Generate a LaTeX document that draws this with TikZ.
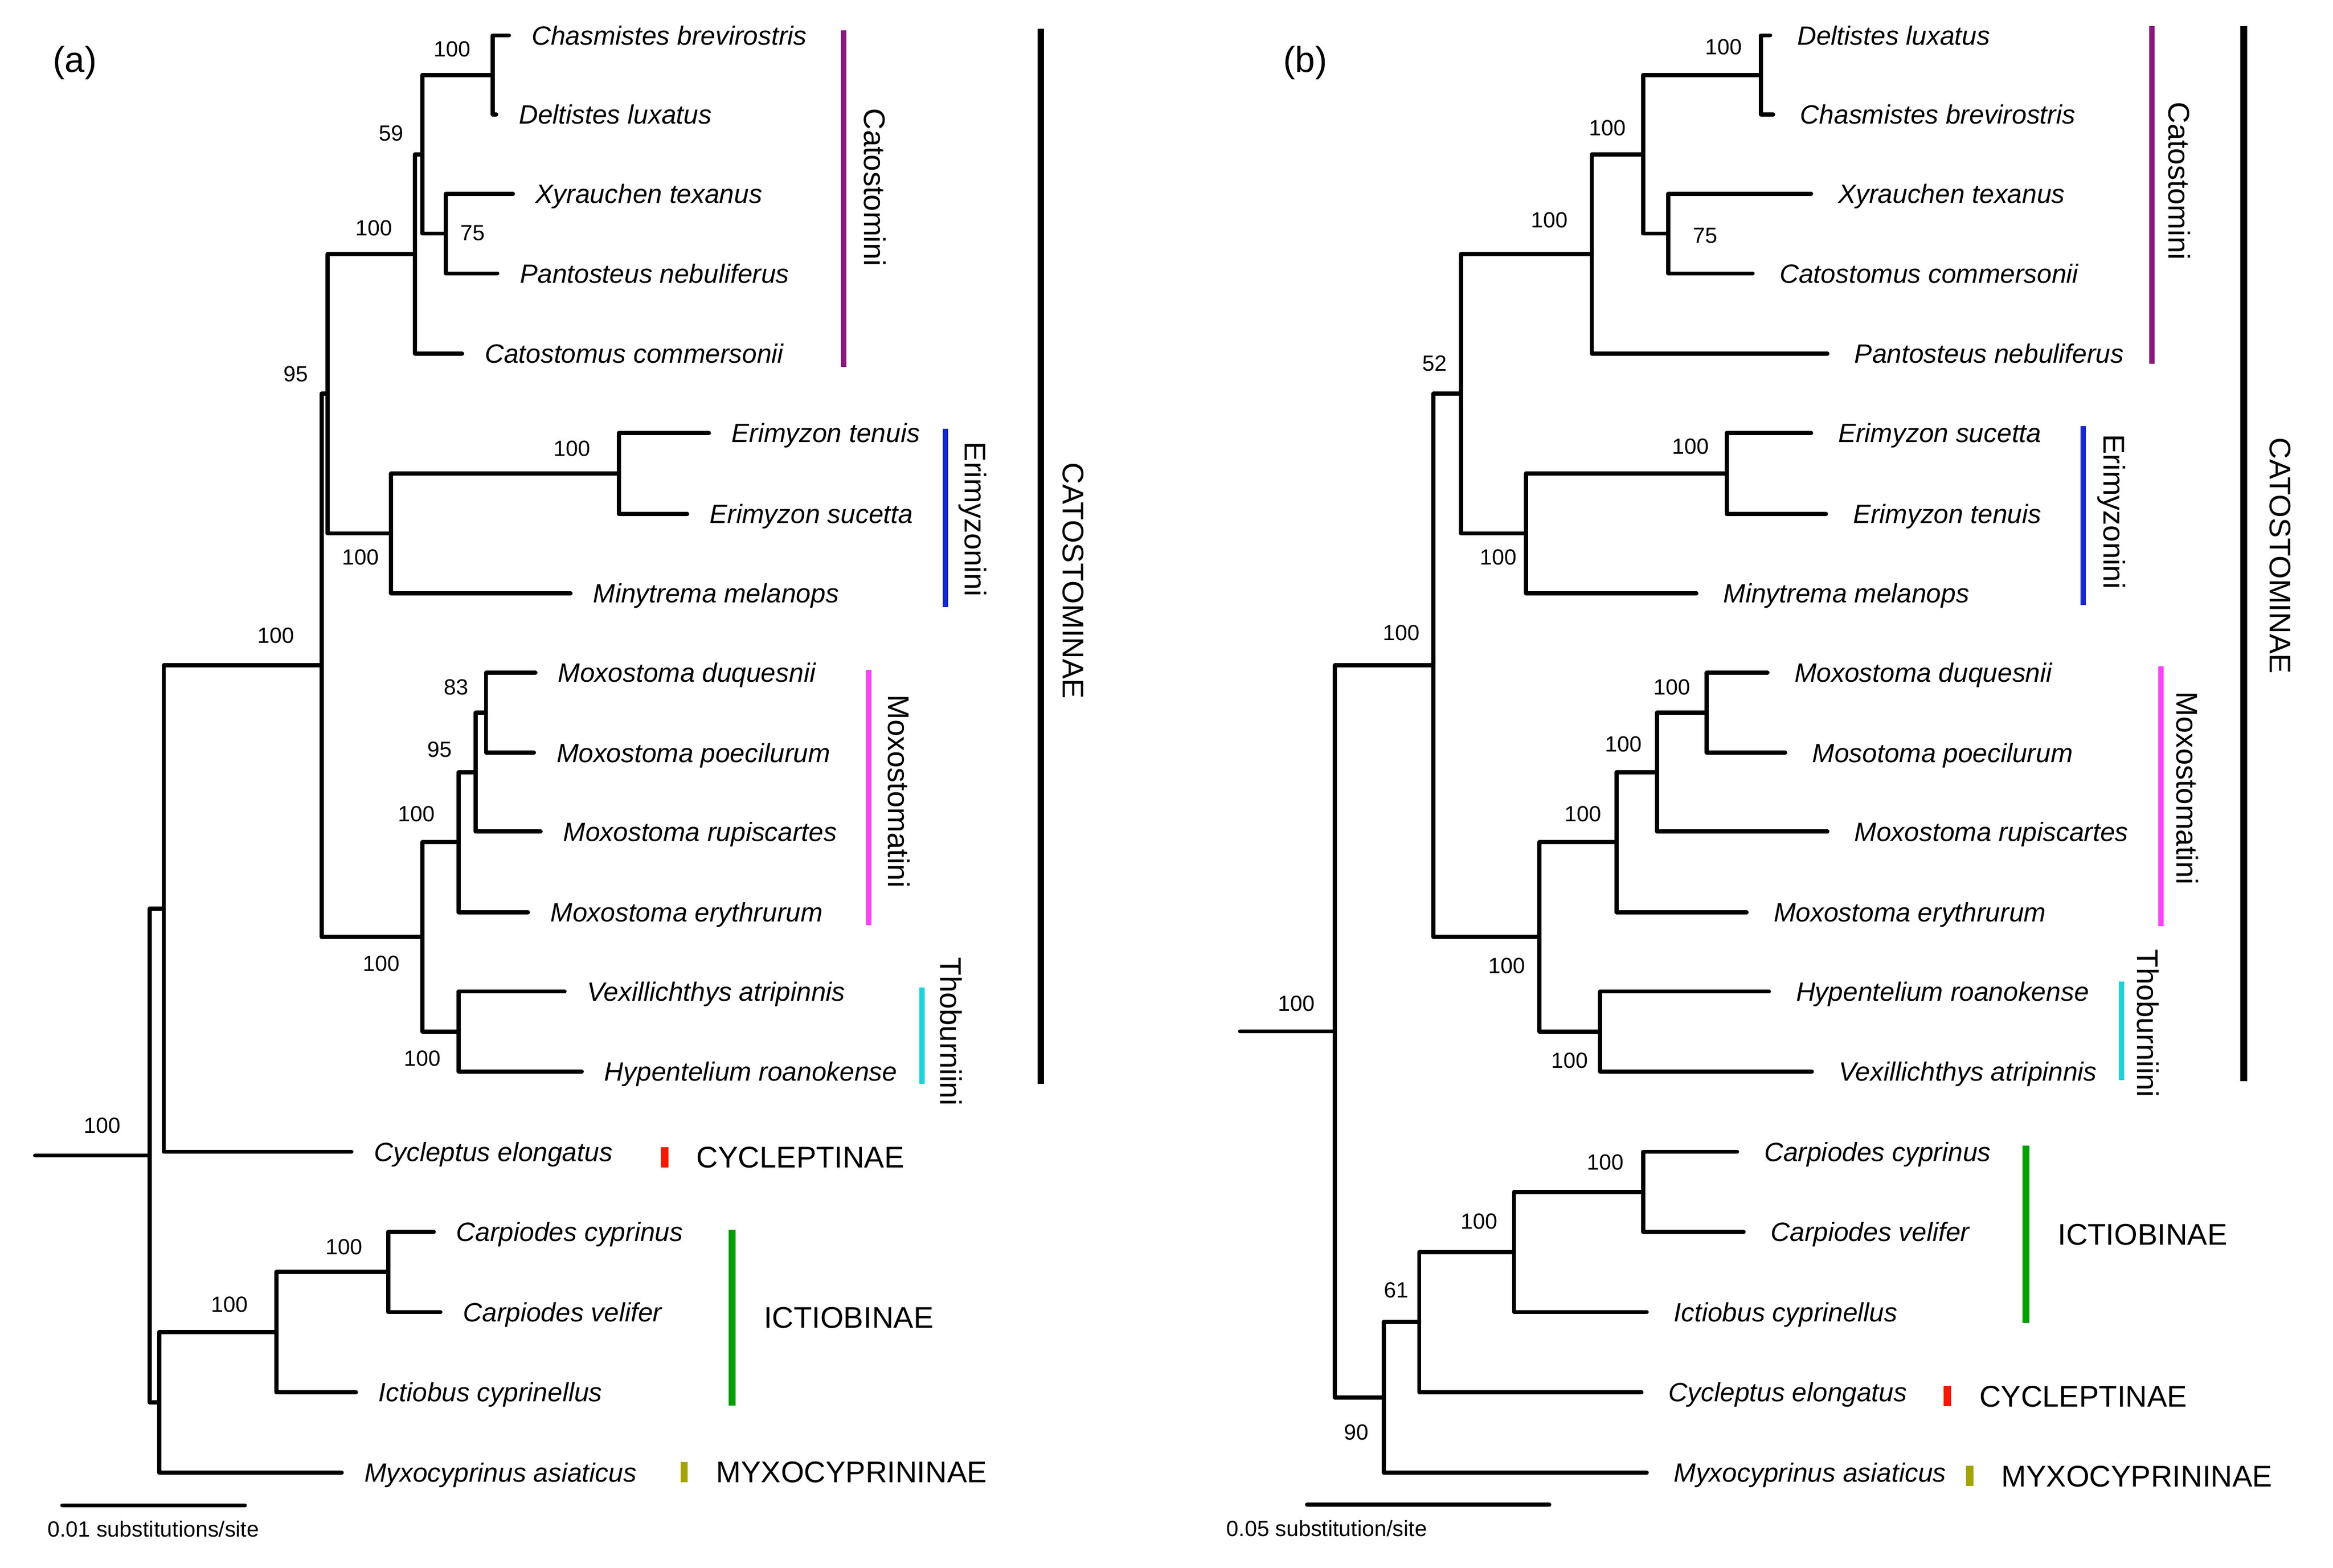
\documentclass[tikz,border=0pt]{standalone}
\usepackage{fontspec}
\setmainfont{Liberation Sans}
\usepackage{tikz}
\usetikzlibrary{positioning}

\definecolor{catocol}{RGB}{140,22,125}
\definecolor{erimcol}{RGB}{22,40,214}
\definecolor{moxocol}{RGB}{255,64,255}
\definecolor{thobcol}{RGB}{30,210,220}
\definecolor{cyclcol}{RGB}{250,25,0}
\definecolor{ictiocol}{RGB}{0,160,0}
\definecolor{myxocol}{RGB}{165,165,0}

\tikzset{
    branch/.style={line width=2.8pt, line cap=round, line join=round},
    tipa/.style={anchor=west, inner xsep=15pt, inner ysep=0pt, font=\fontsize{17.7}{21}\selectfont\itshape, text height=12.7pt, text depth=0pt},
    tipb/.style={tipa, inner xsep=18pt},
    boot/.style={inner sep=0pt, font=\fontsize{14.7}{17}\selectfont, text height=10.5pt, text depth=0pt},
    bar/.style={inner sep=0pt, minimum width=3.5pt},
    widebar/.style={inner sep=0pt, minimum width=4.8pt},
    tribe/.style={rotate=-90, inner sep=0pt, font=\fontsize{20}{24}\selectfont, text height=14.3pt, text depth=0pt},
    subfam/.style={inner sep=0pt, font=\fontsize{20}{24}\selectfont, text height=14.3pt, text depth=0pt},
    panel/.style={inner sep=0pt, font=\fontsize{24}{28}\selectfont},
    scaletext/.style={anchor=base west, inner sep=0pt, font=\fontsize{14.7}{17}\selectfont}
}

\begin{document}
\begin{tikzpicture}[x=1pt, y=-1pt]
    \useasboundingbox (0,0) rectangle (1560,1048.5);

    \node[panel] (pa) at (50,42) {(a)};

    \node[tipa] (aChas) at (340.3,23.7) {Chasmistes brevirostris};
    \node[tipa] (aDelt) at (331.8,76.5) {Deltistes luxatus};
    \node[tipa] (aXyr) at (343,129.5) {Xyrauchen texanus};
    \node[tipa] (aPant) at (332.5,182.9) {Pantosteus nebuliferus};
    \node[tipa] (aCat) at (309,236.5) {Catostomus commersonii};
    \node[tipa] (aEten) at (474,289.5) {Erimyzon tenuis};
    \node[tipa] (aEsuc) at (459.5,343.6) {Erimyzon sucetta};
    \node[tipa] (aMiny) at (381.5,396.8) {Minytrema melanops};
    \node[tipa] (aMduq) at (358,449.8) {Moxostoma duquesnii};
    \node[tipa] (aMpoe) at (357,503.4) {Moxostoma poecilurum};
    \node[tipa] (aMrup) at (361.5,556.1) {Moxostoma rupiscartes};
    \node[tipa] (aMery) at (353,610) {Moxostoma erythrurum};
    \node[tipa] (aVex) at (377.5,663) {Vexillichthys atripinnis};
    \node[tipa] (aHyp) at (389,716.5) {Hypentelium roanokense};
    \node[tipa] (aCyc) at (235,770.2) {Cycleptus elongatus};
    \node[tipa] (aCcyp) at (290,823.8) {Carpiodes cyprinus};
    \node[tipa] (aCvel) at (294.5,877.4) {Carpiodes velifer};
    \node[tipa] (aIct) at (238,931) {Ictiobus cyprinellus};
    \node[tipa] (aMyx) at (228.5,984.8) {Myxocyprinus asiaticus};

    \coordinate (aCD) at (329.5,50.1);
    \coordinate (aXP) at (298,156.2);
    \coordinate (a59) at (282.5,103.2);
    \coordinate (aN1) at (277.5,169.9);
    \coordinate (aEE) at (414,316.6);
    \coordinate (aEM) at (261.5,356.7);
    \coordinate (a95) at (219,263.3);
    \coordinate (a83) at (325,476.6);
    \coordinate (aM95) at (318,516.4);
    \coordinate (aM100) at (306.5,563.2);
    \coordinate (aTh) at (306.5,689.8);
    \coordinate (aMT) at (282.5,626.5);
    \coordinate (aCatm) at (215,444.9);
    \coordinate (aCC) at (109.5,607.6);
    \coordinate (aI1) at (259.5,850.6);
    \coordinate (aI2) at (185,890.8);
    \coordinate (aIM) at (106.4,937.8);
    \coordinate (aRoot) at (100,772.7);
    \coordinate (aStem) at (23.5,772.7);

    \draw[branch] (aChas.west) -| (aCD) |- (aDelt.west);
    \draw[branch] (aXyr.west) -| (aXP) |- (aPant.west);
    \draw[branch] (aCD) -| (a59) |- (aXP);
    \draw[branch] (a59) -| (aN1) |- (aCat.west);
    \draw[branch] (aEten.west) -| (aEE) |- (aEsuc.west);
    \draw[branch] (aEE) -| (aEM) |- (aMiny.west);
    \draw[branch] (aN1) -| (a95) |- (aEM);
    \draw[branch] (aMduq.west) -| (a83) |- (aMpoe.west);
    \draw[branch] (a83) -| (aM95) |- (aMrup.west);
    \draw[branch] (aM95) -| (aM100) |- (aMery.west);
    \draw[branch] (aVex.west) -| (aTh) |- (aHyp.west);
    \draw[branch] (aM100) -| (aMT) |- (aTh);
    \draw[branch] (a95) -| (aCatm) |- (aMT);
    \draw[branch] (aCatm) -| (aCC) |- (aCyc.west);
    \draw[branch] (aCcyp.west) -| (aI1) |- (aCvel.west);
    \draw[branch] (aI1) -| (aI2) |- (aIct.west);
    \draw[branch] (aI2) -| (aIM) |- (aMyx.west);
    \draw[branch] (aCC) -| (aRoot) |- (aIM);
    \draw[branch] (aStem) -- (aRoot);

    \node[boot] (aCDb) at (302.5,32.6) {100};
    \node[boot] (aXPb) at (316,155.7) {75};
    \node[boot] (a59b) at (261.5,89.1) {59};
    \node[boot] (aN1b) at (250,152.3) {100};
    \node[boot] (aEEb) at (382.5,299.9) {100};
    \node[boot] (aEMb) at (241,372.6) {100};
    \node[boot] (a95b) at (198,249.8) {95};
    \node[boot] (a83b) at (305,459.3) {83};
    \node[boot] (aM95b) at (294,501) {95};
    \node[boot] (aM100b) at (278.5,544.3) {100};
    \node[boot] (aThb) at (282.5,707.5) {100};
    \node[boot] (aMTb) at (255,644.1) {100};
    \node[boot] (aCatmb) at (184.5,424.7) {100};
    \node[boot] (aI1b) at (230,833.6) {100};
    \node[boot] (aI2b) at (153.5,872) {100};
    \node[boot] (aRootb) at (68.5,752.6) {100};

    \node[bar, fill=catocol, minimum height=225.3pt] (aCatoBar) at (564.2,132.85) {};
    \node[bar, fill=erimcol, minimum height=119.4pt] (aErimBar) at (632.2,346.5) {};
    \node[bar, fill=moxocol, minimum height=170.9pt] (aMoxoBar) at (581,533.35) {};
    \node[bar, fill=thobcol, minimum height=64.4pt] (aThobBar) at (616.5,692.5) {};
    \node[bar, fill=black, minimum width=4.5pt, minimum height=705.5pt] (aSubBar) at (696,371.95) {};
    \node[widebar, fill=cyclcol, minimum height=13.5pt] (aCyclBar) at (444.5,773.85) {};
    \node[widebar, fill=ictiocol, minimum height=117.4pt] (aIctBar) at (489.5,881.1) {};
    \node[widebar, fill=myxocol, minimum height=13.8pt] (aMyxBar) at (457.5,984.4) {};

    \node[tribe] (aCatoLab) at (585,125.3) {Catostomini};
    \node[tribe] (aErimLab) at (652.5,347.2) {Erimyzonini};
    \node[tribe] (aMoxoLab) at (601,529.1) {Moxostomatini};
    \node[tribe] (aThobLab) at (636,689.8) {Thoburniini};
    \node[tribe] (aSubLab) at (718,388.4) {CATOSTOMINAE};
    \node[subfam, right=18.5pt of aCyclBar] (aCyclLab) {CYCLEPTINAE};
    \node[subfam, right=18.5pt of aIctBar] (aIctLab) {ICTIOBINAE};
    \node[subfam, right=18.5pt of aMyxBar] (aMyxLab) {MYXOCYPRININAE};

    \coordinate (aSc1) at (41.7,1006.7);
    \coordinate (aSc2) at (163.7,1006.7);
    \draw[branch] (aSc1) -- (aSc2);
    \node[scaletext] (aScLab) at (31.7,1027.6) {0.01 substitutions/site};

    \node[panel] (pb) at (872.8,42) {(b)};

    \node[tipb] (bDelt) at (1183.6,23.7) {Deltistes luxatus};
    \node[tipb] (bChas) at (1185.6,76.5) {Chasmistes brevirostris};
    \node[tipb] (bXyr) at (1211,129.5) {Xyrauchen texanus};
    \node[tipb] (bCat) at (1171.9,182.9) {Catostomus commersonii};
    \node[tipb] (bPant) at (1221.9,236.5) {Pantosteus nebuliferus};
    \node[tipb] (bEsuc) at (1211,289.5) {Erimyzon sucetta};
    \node[tipb] (bEten) at (1220.9,343.6) {Erimyzon tenuis};
    \node[tipb] (bMiny) at (1134.3,396.8) {Minytrema melanops};
    \node[tipb] (bMduq) at (1181.8,449.8) {Moxostoma duquesnii};
    \node[tipb] (bMpoe) at (1193.7,503.4) {Mosotoma poecilurum};
    \node[tipb] (bMrup) at (1221.9,556.1) {Moxostoma rupiscartes};
    \node[tipb] (bMery) at (1167.9,610) {Moxostoma erythrurum};
    \node[tipb] (bHyp) at (1182.8,663) {Hypentelium roanokense};
    \node[tipb] (bVex) at (1211.5,716.5) {Vexillichthys atripinnis};
    \node[tipb] (bCcyp) at (1161.5,770.2) {Carpiodes cyprinus};
    \node[tipb] (bCvel) at (1165.9,823.8) {Carpiodes velifer};
    \node[tipb] (bIct) at (1101.1,877.4) {Ictiobus cyprinellus};
    \node[tipb] (bCyc) at (1097.6,931) {Cycleptus elongatus};
    \node[tipb] (bMyx) at (1101.1,984.8) {Myxocyprinus asiaticus};

    \coordinate (bDC) at (1177.5,50.1);
    \coordinate (bXC) at (1115.4,156.2);
    \coordinate (bA) at (1098.6,103.2);
    \coordinate (bB) at (1064.4,169.9);
    \coordinate (bE) at (1154.6,316.6);
    \coordinate (bF) at (1020.4,356.7);
    \coordinate (bG) at (976.8,263.3);
    \coordinate (bM1) at (1141.2,476.6);
    \coordinate (bM2) at (1108,516.4);
    \coordinate (bM3) at (1080.8,563.2);
    \coordinate (bT) at (1069.9,689.8);
    \coordinate (bMT) at (1029.3,626.5);
    \coordinate (bC) at (958.4,444.9);
    \coordinate (bI1) at (1098.6,797);
    \coordinate (bI2) at (1012.4,837.2);
    \coordinate (b61) at (949,884.1);
    \coordinate (b90) at (925.2,934.5);
    \coordinate (bRoot) at (892.6,689.7);
    \coordinate (bStem) at (829.2,689.7);

    \draw[branch] (bDelt.west) -| (bDC) |- (bChas.west);
    \draw[branch] (bXyr.west) -| (bXC) |- (bCat.west);
    \draw[branch] (bDC) -| (bA) |- (bXC);
    \draw[branch] (bA) -| (bB) |- (bPant.west);
    \draw[branch] (bEsuc.west) -| (bE) |- (bEten.west);
    \draw[branch] (bE) -| (bF) |- (bMiny.west);
    \draw[branch] (bB) -| (bG) |- (bF);
    \draw[branch] (bMduq.west) -| (bM1) |- (bMpoe.west);
    \draw[branch] (bM1) -| (bM2) |- (bMrup.west);
    \draw[branch] (bM2) -| (bM3) |- (bMery.west);
    \draw[branch] (bHyp.west) -| (bT) |- (bVex.west);
    \draw[branch] (bM3) -| (bMT) |- (bT);
    \draw[branch] (bG) -| (bC) |- (bMT);
    \draw[branch] (bCcyp.west) -| (bI1) |- (bCvel.west);
    \draw[branch] (bI1) -| (bI2) |- (bIct.west);
    \draw[branch] (bI2) -| (b61) |- (bCyc.west);
    \draw[branch] (b61) -| (b90) |- (bMyx.west);
    \draw[branch] (bC) -| (bRoot) |- (b90);
    \draw[branch] (bStem) -- (bRoot);

    \node[boot] (bDCb) at (1152.6,31.3) {100};
    \node[boot] (bXCb) at (1140.2,157.4) {75};
    \node[boot] (bAb) at (1074.8,85.4) {100};
    \node[boot] (bBb) at (1036.2,146.9) {100};
    \node[boot] (bEb) at (1130.3,298.3) {100};
    \node[boot] (bFb) at (1002,372.6) {100};
    \node[boot] (bGb) at (959.4,242.8) {52};
    \node[boot] (bM1b) at (1117.9,459.3) {100};
    \node[boot] (bM2b) at (1085.7,497.6) {100};
    \node[boot] (bM3b) at (1058.5,544.3) {100};
    \node[boot] (bTb) at (1049.6,709.1) {100};
    \node[boot] (bMTb) at (1007.5,645.8) {100};
    \node[boot] (bCb) at (937.1,423) {100};
    \node[boot] (bI1b) at (1073.3,777.2) {100};
    \node[boot] (bI2b) at (989.1,816.7) {100};
    \node[boot] (b61b) at (933.7,862.5) {61};
    \node[boot] (b90b) at (907,957.5) {90};
    \node[boot] (bRootb) at (866.8,671) {100};

    \node[bar, fill=catocol, minimum height=225.9pt] (bCatoBar) at (1438.9,130.45) {};
    \node[bar, fill=erimcol, minimum height=119.4pt] (bErimBar) at (1392.8,344.8) {};
    \node[bar, fill=moxocol, minimum height=174pt] (bMoxoBar) at (1444.8,532.5) {};
    \node[bar, fill=thobcol, minimum height=65.8pt] (bThobBar) at (1418.6,689.4) {};
    \node[bar, fill=black, minimum width=4.5pt, minimum height=705.5pt] (bSubBar) at (1500.3,370.25) {};
    \node[widebar, fill=ictiocol, minimum height=118.7pt] (bIctBar) at (1354.7,825.45) {};
    \node[widebar, fill=cyclcol, minimum height=13.5pt] (bCyclBar) at (1302.2,933.65) {};
    \node[widebar, fill=myxocol, minimum height=13.5pt] (bMyxBar) at (1317,986.95) {};

    \node[tribe] (bCatoLab) at (1457.2,121) {Catostomini};
    \node[tribe] (bErimLab) at (1413.9,342.1) {Erimyzonini};
    \node[tribe] (bMoxoLab) at (1462.6,527.1) {Moxostomatini};
    \node[tribe] (bThobLab) at (1436.2,684.4) {Thoburniini};
    \node[tribe] (bSubLab) at (1524.8,371.6) {CATOSTOMINAE};
    \node[subfam, right=18.5pt of bIctBar] (bIctLab) {ICTIOBINAE};
    \node[subfam, right=18.5pt of bCyclBar] (bCyclLab) {CYCLEPTINAE};
    \node[subfam, right=18.5pt of bMyxBar] (bMyxLab) {MYXOCYPRININAE};

    \coordinate (bSc1) at (874,1006.1);
    \coordinate (bSc2) at (1035.9,1006.1);
    \draw[branch] (bSc1) -- (bSc2);
    \node[scaletext] (bScLab) at (820,1027.5) {0.05 substitution/site};
\end{tikzpicture}
\end{document}
